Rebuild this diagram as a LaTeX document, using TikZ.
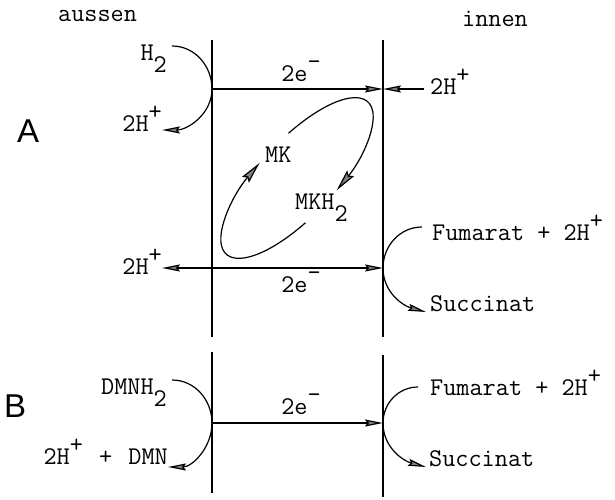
\documentclass[tikz,border=0pt]{standalone}
\usepackage{fontspec}
\newfontfamily\teilfont{Liberation Sans}
\usetikzlibrary{arrows.meta}
\newcommand{\hoch}[1]{\raisebox{0.5em}{#1}}
\newcommand{\tief}[1]{\raisebox{-0.45em}{#1}}

\begin{document}
\begin{tikzpicture}[x=1pt, y=1pt,
    spitze/.tip={Stealth[length=18pt, width=7pt, inset=2.5pt, fill=gray]},
    schleife/.tip={Stealth[length=22pt, width=9pt, inset=3pt, fill=gray]},
    membran/.style={line width=1.3pt},
    pfeil/.style={line width=1.2pt, -spitze},
    txt/.style={font=\ttfamily\fontsize{25.5}{28}\selectfont, inner sep=0pt, anchor=base west},
    teil/.style={font=\teilfont\fontsize{33}{36}\selectfont, inner sep=0pt, anchor=base west}]
    \useasboundingbox (0,0) rectangle (615,500);

    % Membran
    \draw[membran] (212,460) -- (212,163);
    \draw[membran] (383,460) -- (383,163);
    \draw[membran] (212,148) -- (212,7);
    \draw[membran] (383,145) -- (383,3);
    \coordinate (oA) at (212,411);
    \coordinate (iA) at (383,411);
    \coordinate (oA2) at (212,232);
    \coordinate (iA2) at (383,232);
    \coordinate (oB) at (212,77);
    \coordinate (iB) at (383,77);

    \node[txt] (aussen) at (58,478) {aussen};
    \node[txt] (innen) at (462,473) {innen};
    \node[teil] (A) at (17,357) {A};
    \node[teil] (B) at (4,82) {B};

    % Teil A
    \node[txt, anchor=base east] (h2) at (167,439) {H\tief{2}};
    \node[txt, anchor=base east] (hplus1) at (162,368) {2H\hoch{+}};
    \node[txt, anchor=base] (e1) at (301,418) {2e\hoch{\textendash}};
    \node[txt] (hplus2) at (430,405) {2H\hoch{+}};
    \node[txt] (mk) at (265,337) {MK};
    \node[txt] (mkh2) at (295,290) {MKH\tief{2}};
    \node[txt] (fum1) at (432,259) {Fumarat + 2H\hoch{+}};
    \node[txt] (suc1) at (430,188) {Succinat};
    \node[txt, anchor=base east] (hplus3) at (162,225) {2H\hoch{+}};
    \node[txt, anchor=base] (e2) at (301,207) {2e\hoch{\textendash}};
    \coordinate (h2anf) at (172,454);
    \coordinate (hp2) at (424,411);
    \coordinate (fanf1) at (422,273);

    \draw[pfeil] (h2anf) to[out=0, in=90] (oA) to[out=-90, in=0] ([yshift=2pt]hplus1.base east);
    \draw[pfeil] (oA) -- (iA);
    \draw[pfeil] (hp2) -- (iA);
    \draw[line width=1.2pt, spitze-spitze] (hplus3.base east |- iA2) -- (iA2);
    \draw[pfeil] (fanf1) to[out=180, in=90] (iA2) to[out=-90, in=165] ([xshift=-4pt]suc1.base west);
    \begin{scope}[shift={(297,322)}, rotate=47]
        \draw[line width=1.2pt, -schleife] (75:104pt and 38pt) arc[start angle=75, end angle=-80, x radius=104pt, y radius=38pt];
        \draw[line width=1.2pt, -schleife] (255:104pt and 38pt) arc[start angle=255, end angle=98, x radius=104pt, y radius=38pt];
    \end{scope}

    % Teil B
    \node[txt, anchor=base east] (dmnh2) at (167,105) {DMNH\tief{2}};
    \node[txt, anchor=base east] (dmn) at (168,35) {2H\hoch{+}\hspace{3pt} +\hspace{3pt} DMN};
    \node[txt, anchor=base] (e3) at (301,85) {2e\hoch{\textendash}};
    \node[txt] (fum2) at (430,104) {Fumarat + 2H\hoch{+}};
    \node[txt] (suc2) at (429,33) {Succinat};
    \coordinate (danf) at (172,120);
    \coordinate (fanf2) at (418,113);

    \draw[pfeil] (danf) to[out=0, in=90] (oB) to[out=-90, in=0] ([yshift=-2pt]dmn.base east);
    \draw[pfeil] (oB) -- (iB);
    \draw[pfeil] (fanf2) to[out=180, in=90] (iB) to[out=-90, in=165] ([xshift=-3pt]suc2.base west);
\end{tikzpicture}
\end{document}
